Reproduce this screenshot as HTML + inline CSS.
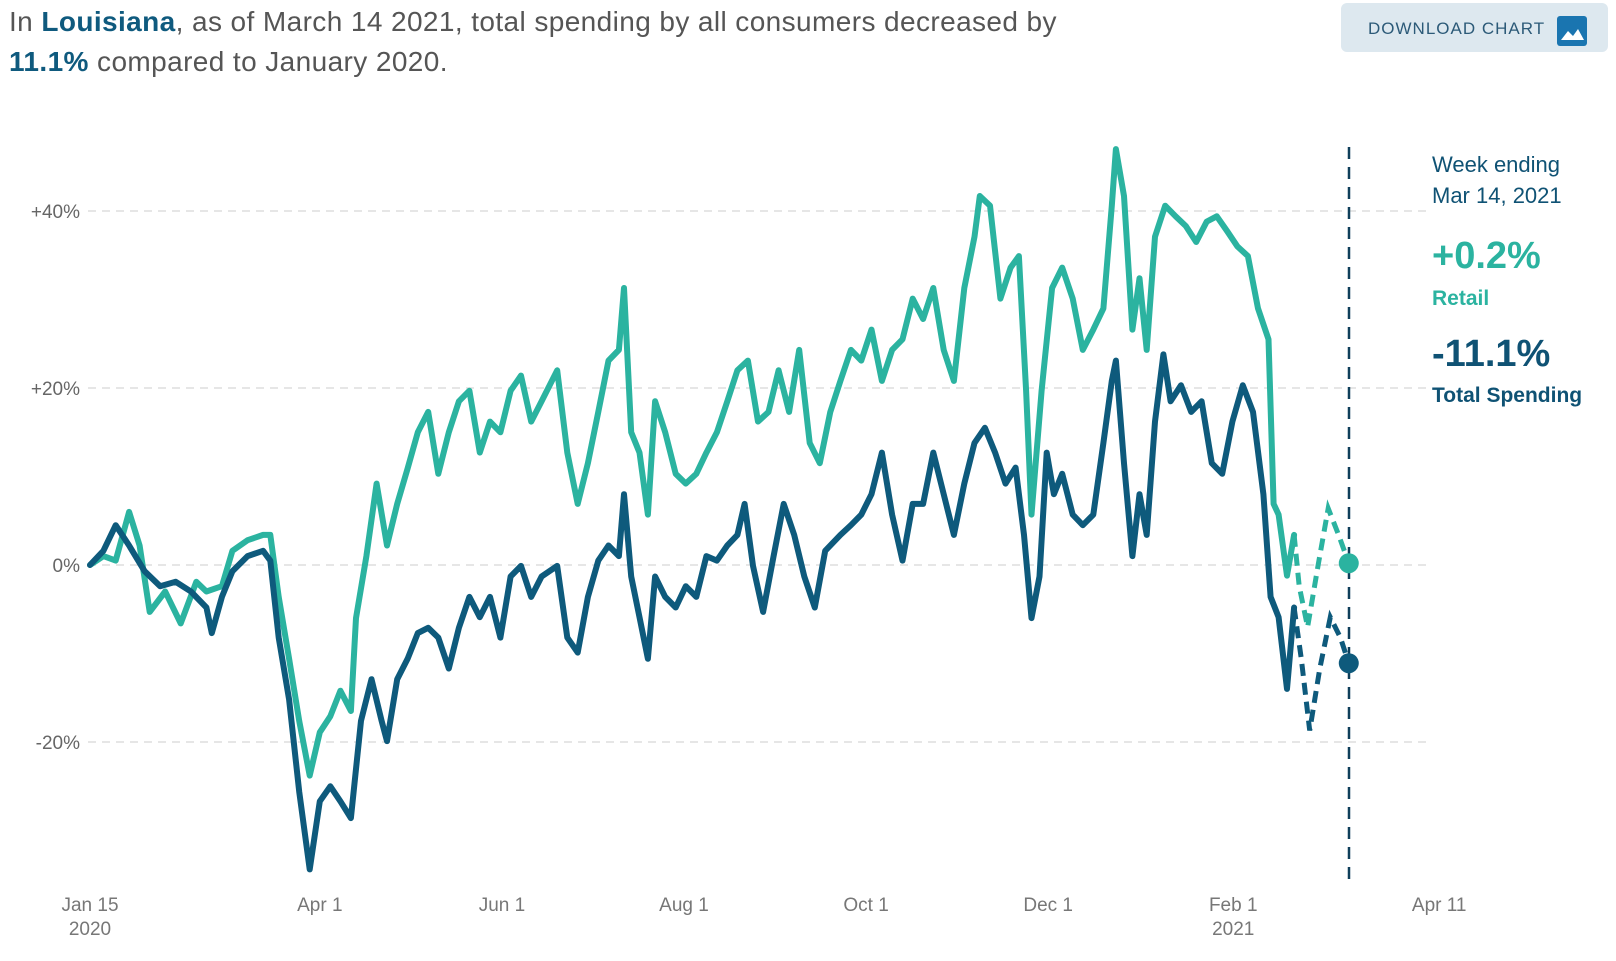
<!DOCTYPE html>
<html><head><meta charset="utf-8"><style>
body{margin:0;width:1616px;height:961px;background:#fff;font-family:"Liberation Sans",sans-serif;overflow:hidden;position:relative}
.title{position:absolute;left:9px;top:2px;font-size:28px;line-height:40px;color:#555;letter-spacing:0.4px}
.title b{color:#0f5a7e}
.btn{position:absolute;left:1341px;top:3px;width:267px;height:49px;background:#dde8ef;border-radius:6px}
.btn span{position:absolute;left:27px;top:16px;font-size:17px;letter-spacing:1px;color:#2c5a78}
.icon{position:absolute;left:216px;top:13px;width:30px;height:30px;background:#1a75b0;border-radius:3px}
.panel{position:absolute;left:1432px;color:#0f5274}
</style></head><body>
<div class="title">In <b>Louisiana</b>, as of March 14 2021, total spending by all consumers decreased by<br><b>11.1%</b> compared to January 2020.</div>
<div class="btn"><span>DOWNLOAD CHART</span><div class="icon"><svg width="30" height="30"><path d="M4 24 L11 15 L16 20 L21 13 L27 24 Z" fill="#fff"/></svg></div></div>
<div class="panel" style="top:149px;font-size:22px;line-height:31px">Week ending<br>Mar 14, 2021</div>
<div class="panel" style="top:235px;font-size:38px;font-weight:bold;color:#2bb3a0">+0.2%</div>
<div class="panel" style="top:287px;font-size:21px;font-weight:bold;color:#2bb3a0">Retail</div>
<div class="panel" style="top:333px;font-size:38px;font-weight:bold">-11.1%</div>
<div class="panel" style="top:384px;font-size:21px;font-weight:bold">Total Spending</div>
<svg id="chart" width="1616" height="961" style="position:absolute;left:0;top:0"></svg>
<script>
const yTicks=[40,20,0,-20];
const yTickLabels=["+40%","+20%","0%","-20%"];
const xTickDays=[0,77,138,199,260,321,383,452];
const xTickLabels=["Jan 15","Apr 1","Jun 1","Aug 1","Oct 1","Dec 1","Feb 1","Apr 11"];
const xTickYears=["2020","","","","","","2021",""];
const retailDays=[0,4.5,8.6,13.1,16.6,20,25.2,30.4,35.6,39,44.2,47.7,52.8,58,60.4,63.2,66.7,70.1,73.6,77,80.5,83.9,87.4,89.1,92.6,96,99.5,102.9,106.4,109.8,113.3,116.7,120.2,123.6,127.1,130.6,134,137.5,140.9,144.4,147.8,151.3,156.5,159.9,163.4,166.8,170.3,173.7,177.2,178.9,181.3,184.1,186.9,189.3,192.7,196.2,199.6,203.1,206.5,210,213.5,216.9,220.4,223.8,227.3,230.7,234.2,237.6,241.1,244.5,248,251.4,254.9,258.4,261.8,265.3,268.7,272.2,275.6,279.1,282.5,286,289.4,292.9,296.3,298.1,301.5,305,308.4,311.2,313.6,315.4,318.8,322.3,325.7,329.2,332.6,336.1,339.5,342.3,343.7,346.4,349.2,351.6,354,356.8,360.2,363.7,367.1,370.6,374.1,377.5,381,384.4,387.9,391.3,394.8,396.5,398.2,401,403.4,405.1,407.9,411.4,414.8,418.3,421.7];
const retailValues=[0,1,0.5,6,2.2,-5.3,-3,-6.6,-1.9,-3,-2.4,1.6,2.8,3.4,3.4,-3.6,-10.6,-17.6,-23.8,-18.9,-17.1,-14.2,-16.5,-6,1,9.2,2.2,6.9,10.9,15,17.3,10.3,15,18.5,19.7,12.7,16.2,15,19.7,21.4,16.2,18.5,22,12.7,6.9,11.5,17.3,23.1,24.3,31.3,15,12.7,5.7,18.5,15,10.3,9.2,10.3,12.7,15,18.5,22,23.1,16.2,17.3,22,17.3,24.3,13.8,11.5,17.3,20.8,24.3,23.1,26.6,20.8,24.3,25.5,30.1,27.8,31.3,24.3,20.8,31.3,37.1,41.7,40.6,30.1,33.6,34.9,19.7,5.7,19.7,31.3,33.6,30.1,24.3,26.6,29,40.6,47,41.7,26.6,32.4,24.3,37.1,40.6,39.4,38.3,36.5,38.8,39.4,37.7,36,34.9,29,25.5,6.9,5.7,-1.2,3.4,-2.4,-7,-0.1,6.4,3.4,0.2];
const totalDays=[0,4.5,8.6,13.1,18.3,23.5,28.7,33.8,39,40.8,44.2,47.7,52.8,58,60.4,63.2,66.7,70.1,73.6,77,80.5,83.9,87.4,90.8,94.3,97.7,99.5,102.9,106.4,109.8,113.3,116.7,120.2,123.6,127.1,130.6,134,137.5,140.9,144.4,147.8,151.3,156.5,159.9,163.4,166.8,170.3,173.7,177.2,178.9,181.3,184.1,186.9,189.3,192.7,196.2,199.6,203.1,206.5,210,213.5,216.9,219.3,222.1,225.5,229,232.4,235.9,239.3,242.8,246.3,251.4,254.9,258.4,261.8,265.3,268.7,272.2,275.6,279.1,282.5,286,289.4,292.9,296.3,299.8,303.2,306.7,310.1,312.9,315.4,318.1,320.5,322.9,325.7,329.2,332.6,336.1,339.5,342.3,343.7,346.4,349.2,351.6,354,356.8,359.6,362,365.5,368.9,372.4,375.8,379.3,382.7,386.2,389.6,393.1,395.5,398.2,401,403.4,405.8,408.6,412,415.5,418.9,421.7];
const totalValues=[0,1.6,4.5,2.2,-0.7,-2.4,-1.9,-3,-4.8,-7.7,-3.6,-0.7,1,1.6,0.5,-8.2,-15.2,-25.6,-34.4,-26.7,-25,-26.7,-28.6,-17.6,-12.9,-17.6,-19.9,-12.9,-10.6,-7.7,-7.1,-8.2,-11.7,-7.1,-3.6,-5.9,-3.6,-8.2,-1.3,-0.1,-3.6,-1.3,-0.1,-8.2,-9.9,-3.6,0.5,2.2,1,8,-1.3,-5.9,-10.6,-1.3,-3.6,-4.8,-2.4,-3.6,1,0.5,2.2,3.4,6.9,-0.1,-5.3,1,6.9,3.4,-1.3,-4.8,1.6,3.4,4.5,5.7,8,12.7,5.7,0.5,6.9,6.9,12.7,8,3.4,9.2,13.8,15.5,12.7,9.2,11,3.4,-6,-1.3,12.7,8,10.3,5.7,4.5,5.7,13.8,20.8,23.1,11.5,1,8,3.4,16.2,23.8,18.5,20.3,17.3,18.5,11.5,10.3,16.2,20.3,17.3,8,-3.6,-5.9,-14,-4.8,-10.6,-18.7,-11.7,-5.9,-8.2,-11.1];
const dashStartDay=403.4;
const NS="http://www.w3.org/2000/svg";
const svg=document.getElementById('chart');
function xs(d){return 90+d*2.985;}
function ys(v){return 565-v*8.85;}
function mk(t,a){const e=document.createElementNS(NS,t);for(const k in a)e.setAttribute(k,a[k]);svg.appendChild(e);return e;}
yTicks.forEach((v,i)=>{
  const g=mk('line',{x1:88,x2:1428,y1:ys(v),y2:ys(v),stroke:'#ddd','stroke-width':1.5,'stroke-dasharray':'8 6'});
  
  
  const t=mk('text',{x:80,y:ys(v)+7,'text-anchor':'end','font-size':19,fill:'#666'});
  t.textContent=yTickLabels[i];
  
  
});
xTickDays.forEach((d,i)=>{
  const t=mk('text',{x:xs(d),y:911,'text-anchor':'middle','font-size':19,fill:'#777'});
  t.textContent=xTickLabels[i];
  
  
  if(xTickYears[i]){
    const y=mk('text',{x:xs(d),y:935,'text-anchor':'middle','font-size':19,fill:'#777'});
    y.textContent=xTickYears[i];
    
    
  }
});
const vl=mk('line',{x1:1349,x2:1349,y1:147,y2:880,stroke:'#0f3f5a','stroke-width':2.5,'stroke-dasharray':'12 8'});


function series(days,vals,color,name){
  let s='',d='';
  days.forEach((dd,i)=>{const p=xs(dd).toFixed(1)+','+ys(vals[i]).toFixed(1);
    if(dd<=dashStartDay)s+=(s?'L':'M')+p;
    if(dd>=dashStartDay)d+=(d?'L':'M')+p;});
  const a=mk('path',{d:s,fill:'none',stroke:color,'stroke-width':6,'stroke-linejoin':'round','stroke-linecap':'round'});
  
  
  const b=mk('path',{d:d,fill:'none',stroke:color,'stroke-width':5,'stroke-dasharray':'12 7'});
  
  
  const n=days.length-1;
  const c=mk('circle',{cx:xs(days[n]),cy:ys(vals[n]),r:10,fill:color});
  
  
}
series(retailDays,retailValues,'#2bb3a0','retail');
series(totalDays,totalValues,'#0e5a7c','total-spending');
</script>
</body></html>
